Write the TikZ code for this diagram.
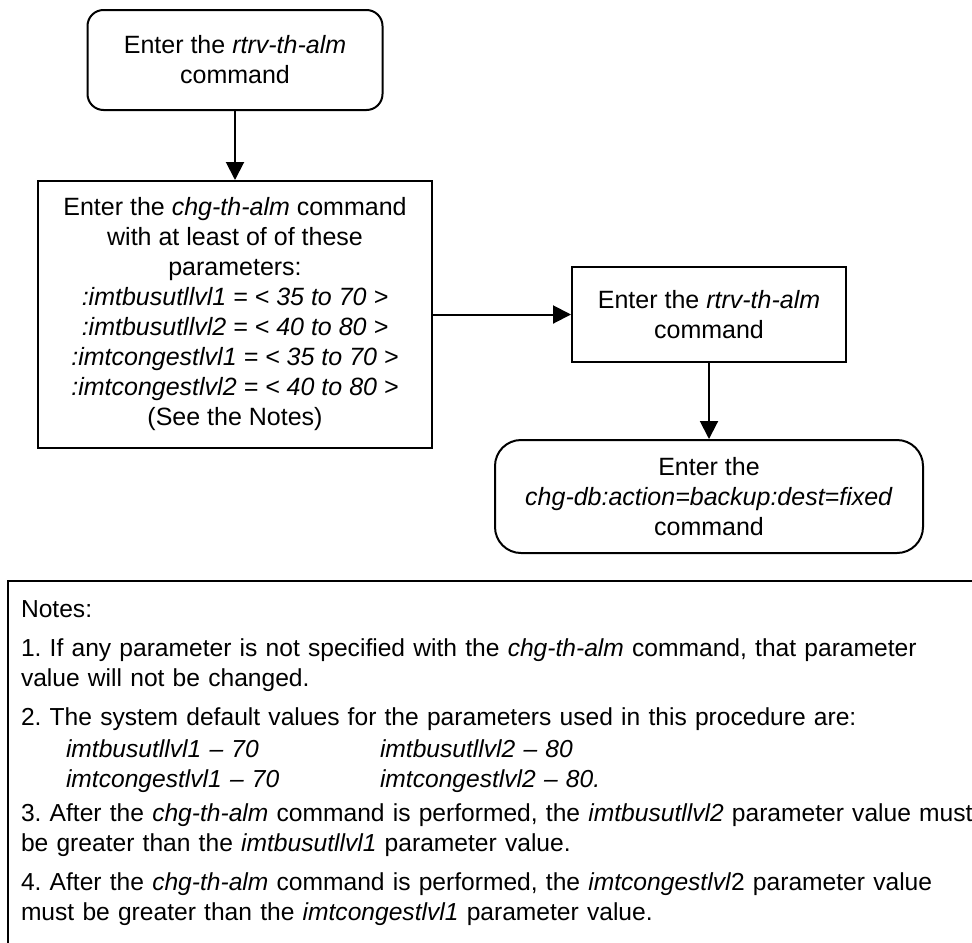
\documentclass[tikz,border=0pt]{standalone}
\usepackage{fontspec}
\setmainfont{Liberation Sans}
\usetikzlibrary{positioning, arrows.meta}

\begin{document}
\frenchspacing
\begin{tikzpicture}[
		x=0.5pt, y=-0.5pt,
		line width=1pt,
		every node/.style={font=\fontsize{12.5}{15}\selectfont},
		term/.style={rectangle, draw, rounded corners=8pt, align=center, inner sep=0pt},
		proc/.style={rectangle, draw, align=center, inner sep=0pt},
		notebox/.style={rectangle, draw, align=left, text width=500pt, inner xsep=6.5pt, inner ysep=10pt, font=\fontsize{12.3}{15}\selectfont},
		arrow/.style={-{Triangle[length=9pt, width=9pt]}}
		]

		\useasboundingbox (0,0) rectangle (972,942);
		\clip (0,0) rectangle (972,942);

		\node[term, minimum width=147.5pt, minimum height=50pt] (rtrv1) at (235,60) {Enter the \textit{rtrv-th-alm}\\command};
		\node[proc, minimum width=197pt, minimum height=133.5pt, below=34.5pt of rtrv1] (chg) {Enter the \textit{chg-th-alm} command\\with at least of of these\\parameters:\\\textit{:imtbusutllvl1 = < 35 to 70 >}\\\textit{:imtbusutllvl2 = < 40 to 80 >}\\\textit{:imtcongestlvl1 = < 35 to 70 >}\\\textit{:imtcongestlvl2 = < 40 to 80 >}\\(See the Notes)};
		\node[proc, minimum width=137pt, minimum height=47.5pt, right=69pt of chg] (rtrv2) {Enter the \textit{rtrv-th-alm}\\command};
		\node[term, rounded corners=13pt, minimum width=214pt, minimum height=56.5pt, below=38pt of rtrv2] (backup) {Enter the\\\textit{chg-db:action=backup:dest=fixed}\\command};

		\node[notebox, anchor=north west] (notes) at (7,580) {Notes:\\[4.5pt]
			1. If any parameter is not specified with the \textit{chg-th-alm} command, that parameter\\value will not be changed.\\[4.5pt]
			2. The system default values for the parameters used in this procedure are:\\[1pt]
			\hspace*{22.5pt}\makebox[157pt][l]{\textit{imtbusutllvl1 – 70}}\textit{imtbusutllvl2 – 80}\\
			\hspace*{22.5pt}\makebox[157pt][l]{\textit{imtcongestlvl1 – 70}}\textit{imtcongestlvl2 – 80.}\\[2pt]
			3. After the \textit{chg-th-alm} command is performed, the \textit{imtbusutllvl2} parameter value must\\be greater than the \textit{imtbusutllvl1} parameter value.\\[4.5pt]
			4. After the \textit{chg-th-alm} command is performed, the \textit{imtcongestlvl}2 parameter value\\must be greater than the \textit{imtcongestlvl1} parameter value.};

		\draw[arrow] (rtrv1) -- (chg);
		\draw[arrow] (chg) -- (rtrv2);
		\draw[arrow] (rtrv2) -- (backup);
	\end{tikzpicture}
\end{document}
